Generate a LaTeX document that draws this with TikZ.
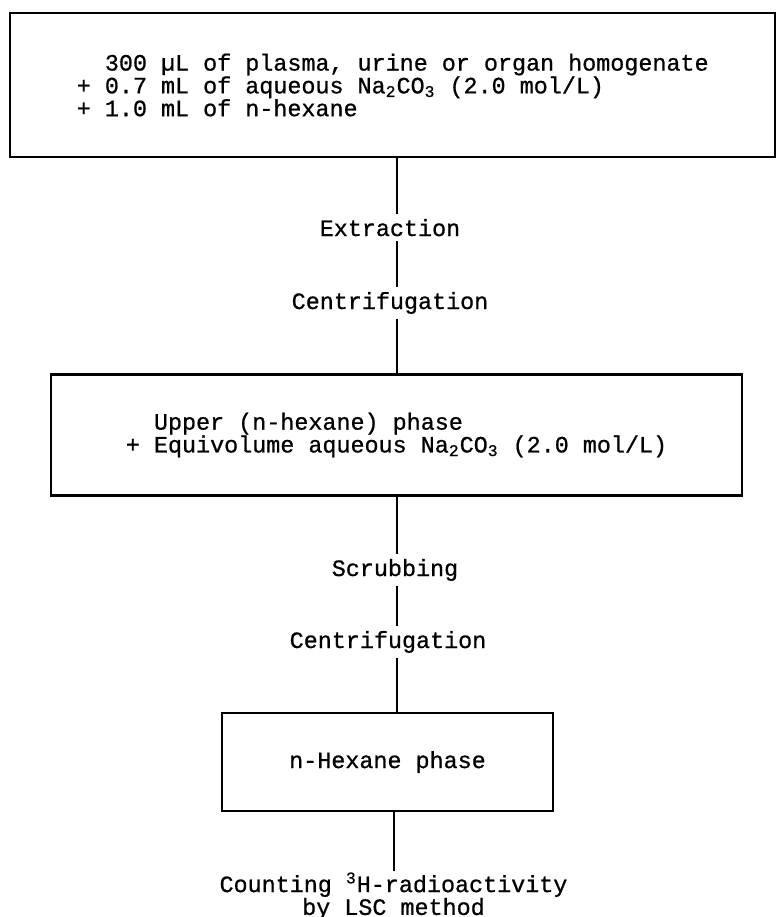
\documentclass[tikz,border=0pt]{standalone}
\usepackage{fontspec}
\setmonofont{Liberation Mono}[FakeBold=0.8]
\usepackage{tikz}
\usetikzlibrary{positioning,calc}

\begin{document}
\begin{tikzpicture}[x=0.5pt, y=-0.5pt,
    font=\ttfamily\fontsize{11.7}{11.4}\selectfont,
    stagebox/.style={draw, line width=1.2pt, align=left, inner sep=0pt},
    steplabel/.style={fill=white, inner xsep=1pt, inner ysep=2.5pt, anchor=base},
    flowline/.style={line width=1pt}]

% Rahmen: 776 x 917 (Pixel des Originals)
\useasboundingbox (0,0) rectangle (776,917);

% Boxen
\node[stagebox, minimum width=382.75pt, minimum height=72pt] (sample) at (392.75,85)
    {\hphantom{+~}300 µL of plasma, urine or organ homogenate\\
     + 0.7 mL of aqueous Na\textsubscript{2}CO\textsubscript{3} (2.0 mol/L)\\
     + 1.0 mL of n-hexane};

\node[stagebox, minimum width=345.5pt, minimum height=60.5pt] (upper) at (396.5,435)
    {\hphantom{+~}Upper (n-hexane) phase\\
     + Equivolume aqueous Na\textsubscript{2}CO\textsubscript{3} (2.0 mol/L)};

\node[stagebox, minimum width=165.5pt, minimum height=49pt] (hexane) at (387.5,762)
    {n-Hexane phase};

\node[align=center, inner sep=0.5pt, anchor=north] (count) at (393.5,871)
    {Counting \textsuperscript{3}H-radioactivity\\by LSC method};

% Verbindungen
\draw[flowline] (sample.south -| upper.north) -- (upper.north);
\draw[flowline] (upper.south) -- (upper.south |- hexane.north);
\draw[flowline] (hexane.south -| count.north) -- (count.north);

% Schritte auf den Linien
\node[steplabel] (extract) at (390,236) {Extraction};
\node[steplabel] (centri1) at (390,309) {Centrifugation};
\node[steplabel] (scrub) at (395,576) {Scrubbing};
\node[steplabel] (centri2) at (388,648) {Centrifugation};

\end{tikzpicture}
\end{document}
